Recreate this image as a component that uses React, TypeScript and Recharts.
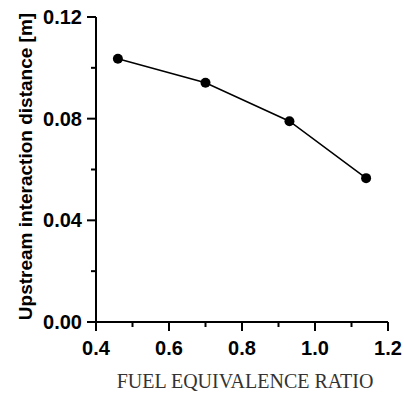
import { Line, LineChart, XAxis, YAxis } from "recharts";

// fuel equivalence ratio vs. upstream interaction distance
const phi = [0.46, 0.7, 0.93, 1.14];
const distance = [0.1036, 0.0941, 0.079, 0.0566];

const xTicks = [0.4, 0.5, 0.6, 0.7, 0.8, 0.9, 1.0, 1.1, 1.2];
const xTickLabels = ["0.4", "", "0.6", "", "0.8", "", "1.0", "", "1.2"];
const yTicks = [0, 0.02, 0.04, 0.06, 0.08, 0.1, 0.12];
const yTickLabels = ["0.00", "", "0.04", "", "0.08", "", "0.12"];

const data = phi.map((p, i) => ({ phi: p, dist: distance[i] }));

const SANS = "'Liberation Sans', Arial, sans-serif";
const SERIF = "'Liberation Serif', 'Times New Roman', serif";

function XTick(props: any) {
  const { x, y, index } = props;
  const label = xTickLabels[index];
  const major = label !== "";
  return (
    <g>
      <line x1={x} x2={x} y1={y} y2={y + (major ? 9 : 5)} stroke="#000" strokeWidth={2} />
      {major && (
        <text x={x} y={y + 33} textAnchor="middle" fontFamily={SANS} fontWeight="bold" fontSize={20} fill="#000">
          {label}
        </text>
      )}
    </g>
  );
}

function YTick(props: any) {
  const { x, y, index } = props;
  const label = yTickLabels[index];
  const major = label !== "";
  return (
    <g>
      <line x1={x} x2={x - (major ? 9 : 5)} y1={y} y2={y} stroke="#000" strokeWidth={2} />
      {major && (
        <text x={x - 14} y={y + 7} textAnchor="end" fontFamily={SANS} fontWeight="bold" fontSize={20} fill="#000">
          {label}
        </text>
      )}
    </g>
  );
}

function XTitle(props: any) {
  const { x, y, width } = props.viewBox;
  return (
    <text x={x + width / 2 + 3} y={y + 66} textAnchor="middle" fontFamily={SERIF} fontSize={20} fill="#333">
      FUEL EQUIVALENCE RATIO
    </text>
  );
}

function YTitle(props: any) {
  const { y, height } = props.viewBox;
  const cx = 32;
  const cy = y + height / 2 - 3;
  return (
    <text
      x={cx}
      y={cy}
      transform={`rotate(-90, ${cx}, ${cy})`}
      textAnchor="middle"
      fontFamily={SANS}
      fontWeight="bold"
      fontSize={19}
      fill="#000"
    >
      Upstream interaction distance [m]
    </text>
  );
}

export default function App() {
  return (
    <div style={{ position: "absolute", left: 0, top: 0, background: "#fff" }}>
      <LineChart width={404} height={395} data={data} margin={{ top: 17, right: 16, bottom: 33, left: 0 }}>
        <XAxis
          dataKey="phi"
          type="number"
          domain={[0.4, 1.2]}
          ticks={xTicks}
          interval={0}
          height={40}
          tickSize={0}
          tickMargin={0}
          tick={<XTick />}
          axisLine={{ stroke: "#000", strokeWidth: 2 }}
          label={<XTitle />}
        />
        <YAxis
          dataKey="dist"
          type="number"
          domain={[0, 0.12]}
          ticks={yTicks}
          interval={0}
          width={96}
          tickSize={0}
          tickMargin={0}
          tick={<YTick />}
          axisLine={{ stroke: "#000", strokeWidth: 2 }}
          label={<YTitle />}
        />
        <Line
          type="linear"
          dataKey="dist"
          stroke="#000"
          strokeWidth={1.5}
          dot={{ r: 5, fill: "#000", stroke: "#000", strokeWidth: 0 }}
          isAnimationActive={false}
        />
      </LineChart>
    </div>
  );
}
